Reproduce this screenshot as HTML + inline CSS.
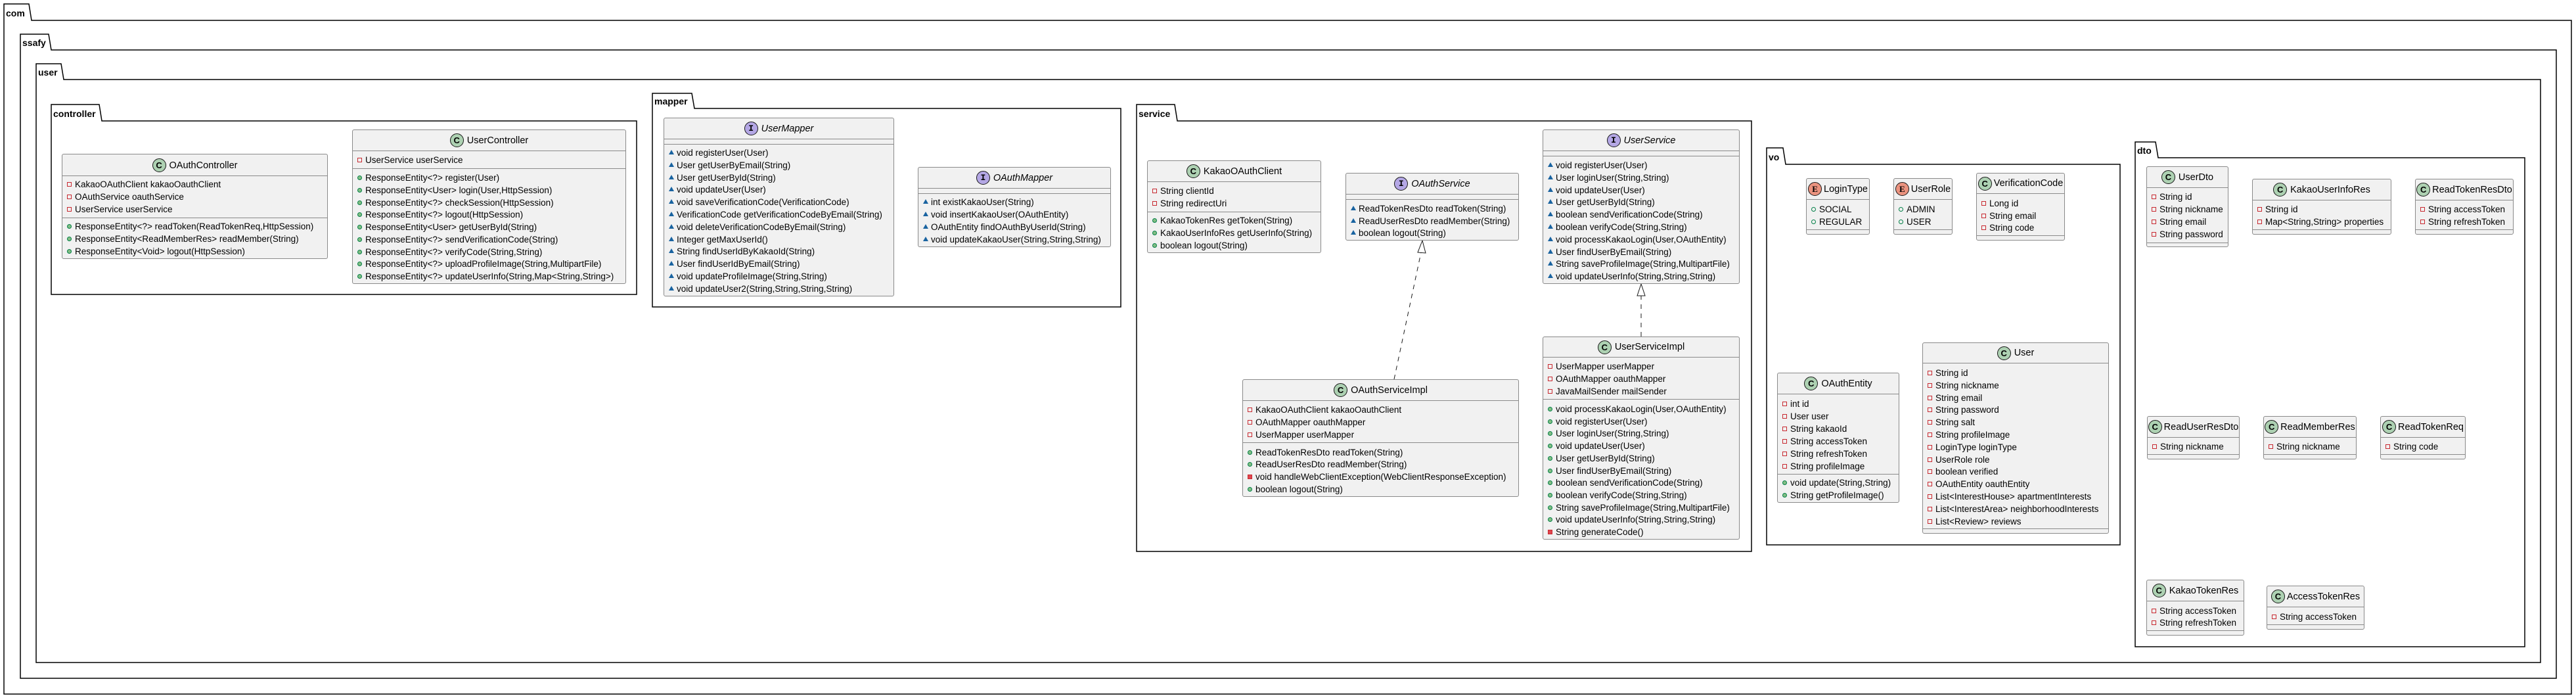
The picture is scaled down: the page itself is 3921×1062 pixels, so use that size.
<!DOCTYPE html>
<html><head><meta charset="utf-8">
<style>
html,body{margin:0;padding:0;background:#fff;}
body{width:3921px;height:1062px;position:relative;overflow:hidden;font-family:"Liberation Sans",Arial,sans-serif;color:#000;}
svg.bg{position:absolute;left:0;top:0;}
.b{position:absolute;background:#F1F1F1;border:1px solid #8a8a8a;border-radius:3px;box-sizing:border-box;}
.h{position:absolute;left:0;right:0;top:0;display:flex;align-items:center;justify-content:center;gap:5px;font-size:14.5px;white-space:nowrap;}
.h.it span{font-style:italic;}
.c{width:21px;height:21px;border-radius:50%;border:1px solid #181818;background:#ADD1B2;font:bold 13px "Liberation Sans",sans-serif;display:flex;align-items:center;justify-content:center;box-sizing:border-box;flex:none;}
.c.i{background:#B4A7E5;font-family:"Liberation Mono",monospace;}
.c.e{background:#EB937F;font-family:"Liberation Serif",serif;}
.s{position:absolute;left:0;right:0;border-top:1px solid #8a8a8a;height:0;}
p{position:absolute;left:19px;margin:0;font-size:13.5px;line-height:19px;white-space:nowrap;}
p i{position:absolute;left:-12px;top:6px;width:7px;height:7px;box-sizing:border-box;}
i.pf{border:1px solid #C82930;}
i.pm{background:#E0474F;border:1px solid #C82930;}
i.gm{background:#84BE84;border:1px solid #038048;border-radius:50%;}
i.gf{border:1px solid #038048;border-radius:50%;}
i.tr{width:0;height:0;border-left:4px solid transparent;border-right:4px solid transparent;border-bottom:7px solid #1963A0;top:5px;}
</style></head><body>
<svg class="bg" width="3921" height="1062" xmlns="http://www.w3.org/2000/svg">
<g fill="none" stroke="#000" stroke-width="1.5">
<path d="M6,1056 L6,6 L44,6 L48,31 L3914,31 L3914,1056 Z"/>
<path d="M31,1032 L31,52 L74,52 L78,76 L3891,76 L3891,1032 Z"/>
<path d="M55,1008 L55,97 L93,97 L97,121 L3867,121 L3867,1008 Z"/>
<path d="M78,448 L78,159 L151,159 L155,184 L969,184 L969,448 Z"/>
<path d="M993,467 L993,142 L1053,142 L1057,165 L1706,165 L1706,467 Z"/>
<path d="M1730,839 L1730,159 L1788,159 L1792,184 L2666,184 L2666,839 Z"/>
<path d="M2689,829 L2689,225 L2714,225 L2718,250 L3227,250 L3227,829 Z"/>
<path d="M3250,984 L3250,216 L3281,216 L3285,240 L3843,240 L3843,984 Z"/>
</g>
<g font-family="Liberation Sans, Arial, sans-serif" font-weight="bold" font-size="14">
<text x="9" y="25">com</text>
<text x="34" y="70">ssafy</text>
<text x="58" y="115">user</text>
<text x="81" y="178">controller</text>
<text x="996" y="159">mapper</text>
<text x="1733" y="178">service</text>
<text x="2692" y="244">vo</text>
<text x="3253" y="234">dto</text>
</g>
<g stroke="#181818" stroke-width="1" fill="none">
<line x1="2122" y1="577" x2="2163" y2="384" stroke-dasharray="7,7"/>
<polygon points="2165,366 2158,384 2170,385" fill="#fff"/>
<line x1="2498" y1="512" x2="2498" y2="450" stroke-dasharray="7,7"/>
<polygon points="2498,432 2492,450 2504,450" fill="#fff"/>
</g>
</svg>

<!-- OAuthController -->
<div class="b" style="left:94px;top:234px;width:405px;height:160px">
<div class="h" style="height:33px"><div class="c">C</div><span>OAuthController</span></div>
<div class="s" style="top:32px"></div>
<p style="top:36px"><i class="pf"></i>KakaoOAuthClient kakaoOauthClient</p>
<p style="top:55px"><i class="pf"></i>OAuthService oauthService</p>
<p style="top:74px"><i class="pf"></i>UserService userService</p>
<div class="s" style="top:96px"></div>
<p style="top:100px"><i class="gm"></i>ResponseEntity&lt;?&gt; readToken(ReadTokenReq,HttpSession)</p>
<p style="top:119px"><i class="gm"></i>ResponseEntity&lt;ReadMemberRes&gt; readMember(String)</p>
<p style="top:138px"><i class="gm"></i>ResponseEntity&lt;Void&gt; logout(HttpSession)</p>
</div>

<!-- UserController -->
<div class="b" style="left:536px;top:197px;width:417px;height:235px">
<div class="h" style="height:31px"><div class="c">C</div><span>UserController</span></div>
<div class="s" style="top:31px"></div>
<p style="top:36px"><i class="pf"></i>UserService userService</p>
<div class="s" style="top:58px"></div>
<p style="top:63px"><i class="gm"></i>ResponseEntity&lt;?&gt; register(User)</p>
<p style="top:81.75px"><i class="gm"></i>ResponseEntity&lt;User&gt; login(User,HttpSession)</p>
<p style="top:100.5px"><i class="gm"></i>ResponseEntity&lt;?&gt; checkSession(HttpSession)</p>
<p style="top:119.25px"><i class="gm"></i>ResponseEntity&lt;?&gt; logout(HttpSession)</p>
<p style="top:138px"><i class="gm"></i>ResponseEntity&lt;User&gt; getUserById(String)</p>
<p style="top:156.75px"><i class="gm"></i>ResponseEntity&lt;?&gt; sendVerificationCode(String)</p>
<p style="top:175.5px"><i class="gm"></i>ResponseEntity&lt;?&gt; verifyCode(String,String)</p>
<p style="top:194.25px"><i class="gm"></i>ResponseEntity&lt;?&gt; uploadProfileImage(String,MultipartFile)</p>
<p style="top:213px"><i class="gm"></i>ResponseEntity&lt;?&gt; updateUserInfo(String,Map&lt;String,String&gt;)</p>
</div>

<!-- UserMapper -->
<div class="b" style="left:1010px;top:179px;width:351px;height:272px">
<div class="h it" style="height:31px"><div class="c i">I</div><span>UserMapper</span></div>
<div class="s" style="top:31px"></div><div class="s" style="top:39px"></div>
<p style="top:43px"><i class="tr"></i>void registerUser(User)</p>
<p style="top:61.8px"><i class="tr"></i>User getUserByEmail(String)</p>
<p style="top:80.6px"><i class="tr"></i>User getUserById(String)</p>
<p style="top:99.4px"><i class="tr"></i>void updateUser(User)</p>
<p style="top:118.2px"><i class="tr"></i>void saveVerificationCode(VerificationCode)</p>
<p style="top:137px"><i class="tr"></i>VerificationCode getVerificationCodeByEmail(String)</p>
<p style="top:155.8px"><i class="tr"></i>void deleteVerificationCodeByEmail(String)</p>
<p style="top:174.6px"><i class="tr"></i>Integer getMaxUserId()</p>
<p style="top:193.4px"><i class="tr"></i>String findUserIdByKakaoId(String)</p>
<p style="top:212.2px"><i class="tr"></i>User findUserIdByEmail(String)</p>
<p style="top:231px"><i class="tr"></i>void updateProfileImage(String,String)</p>
<p style="top:249.8px"><i class="tr"></i>void updateUser2(String,String,String,String)</p>
</div>

<!-- OAuthMapper -->
<div class="b" style="left:1397px;top:254px;width:294px;height:122px">
<div class="h it" style="height:31px"><div class="c i">I</div><span>OAuthMapper</span></div>
<div class="s" style="top:31px"></div><div class="s" style="top:39px"></div>
<p style="top:43px"><i class="tr"></i>int existKakaoUser(String)</p>
<p style="top:62px"><i class="tr"></i>void insertKakaoUser(OAuthEntity)</p>
<p style="top:81px"><i class="tr"></i>OAuthEntity findOAuthByUserId(String)</p>
<p style="top:100px"><i class="tr"></i>void updateKakaoUser(String,String,String)</p>
</div>

<!-- KakaoOAuthClient -->
<div class="b" style="left:1746px;top:244px;width:265px;height:141px">
<div class="h" style="height:31px"><div class="c">C</div><span>KakaoOAuthClient</span></div>
<div class="s" style="top:31px"></div>
<p style="top:36px"><i class="pf"></i>String clientId</p>
<p style="top:55px"><i class="pf"></i>String redirectUri</p>
<div class="s" style="top:77px"></div>
<p style="top:81px"><i class="gm"></i>KakaoTokenRes getToken(String)</p>
<p style="top:100px"><i class="gm"></i>KakaoUserInfoRes getUserInfo(String)</p>
<p style="top:119px"><i class="gm"></i>boolean logout(String)</p>
</div>

<!-- OAuthService -->
<div class="b" style="left:2048px;top:263px;width:264px;height:103px">
<div class="h it" style="height:31px"><div class="c i">I</div><span>OAuthService</span></div>
<div class="s" style="top:31px"></div><div class="s" style="top:39px"></div>
<p style="top:44px"><i class="tr"></i>ReadTokenResDto readToken(String)</p>
<p style="top:63px"><i class="tr"></i>ReadUserResDto readMember(String)</p>
<p style="top:81px"><i class="tr"></i>boolean logout(String)</p>
</div>

<!-- UserService -->
<div class="b" style="left:2348px;top:197px;width:300px;height:235px">
<div class="h it" style="height:31px"><div class="c i">I</div><span>UserService</span></div>
<div class="s" style="top:31px"></div><div class="s" style="top:39px"></div>
<p style="top:44px"><i class="tr"></i>void registerUser(User)</p>
<p style="top:62.8px"><i class="tr"></i>User loginUser(String,String)</p>
<p style="top:81.6px"><i class="tr"></i>void updateUser(User)</p>
<p style="top:100.4px"><i class="tr"></i>User getUserById(String)</p>
<p style="top:119.2px"><i class="tr"></i>boolean sendVerificationCode(String)</p>
<p style="top:138px"><i class="tr"></i>boolean verifyCode(String,String)</p>
<p style="top:156.8px"><i class="tr"></i>void processKakaoLogin(User,OAuthEntity)</p>
<p style="top:175.6px"><i class="tr"></i>User findUserByEmail(String)</p>
<p style="top:194.4px"><i class="tr"></i>String saveProfileImage(String,MultipartFile)</p>
<p style="top:213.2px"><i class="tr"></i>void updateUserInfo(String,String,String)</p>
</div>

<!-- OAuthServiceImpl -->
<div class="b" style="left:1891px;top:577px;width:421px;height:179px">
<div class="h" style="height:31px"><div class="c">C</div><span>OAuthServiceImpl</span></div>
<div class="s" style="top:31px"></div>
<p style="top:36px"><i class="pf"></i>KakaoOAuthClient kakaoOauthClient</p>
<p style="top:55px"><i class="pf"></i>OAuthMapper oauthMapper</p>
<p style="top:74px"><i class="pf"></i>UserMapper userMapper</p>
<div class="s" style="top:95px"></div>
<p style="top:101px"><i class="gm"></i>ReadTokenResDto readToken(String)</p>
<p style="top:119px"><i class="gm"></i>ReadUserResDto readMember(String)</p>
<p style="top:138px"><i class="pm"></i>void handleWebClientException(WebClientResponseException)</p>
<p style="top:157px"><i class="gm"></i>boolean logout(String)</p>
</div>

<!-- UserServiceImpl -->
<div class="b" style="left:2348px;top:512px;width:300px;height:309px">
<div class="h" style="height:30px"><div class="c">C</div><span>UserServiceImpl</span></div>
<div class="s" style="top:30px"></div>
<p style="top:35px"><i class="pf"></i>UserMapper userMapper</p>
<p style="top:54px"><i class="pf"></i>OAuthMapper oauthMapper</p>
<p style="top:73px"><i class="pf"></i>JavaMailSender mailSender</p>
<div class="s" style="top:94px"></div>
<p style="top:100px"><i class="gm"></i>void processKakaoLogin(User,OAuthEntity)</p>
<p style="top:118.7px"><i class="gm"></i>void registerUser(User)</p>
<p style="top:137.4px"><i class="gm"></i>User loginUser(String,String)</p>
<p style="top:156.1px"><i class="gm"></i>void updateUser(User)</p>
<p style="top:174.8px"><i class="gm"></i>User getUserById(String)</p>
<p style="top:193.5px"><i class="gm"></i>User findUserByEmail(String)</p>
<p style="top:212.2px"><i class="gm"></i>boolean sendVerificationCode(String)</p>
<p style="top:230.9px"><i class="gm"></i>boolean verifyCode(String,String)</p>
<p style="top:249.6px"><i class="gm"></i>String saveProfileImage(String,MultipartFile)</p>
<p style="top:268.3px"><i class="gm"></i>void updateUserInfo(String,String,String)</p>
<p style="top:287px"><i class="pm"></i>String generateCode()</p>
</div>

<!-- LoginType -->
<div class="b" style="left:2749px;top:271px;width:97px;height:86px">
<div class="h" style="height:31px;gap:3px"><div class="c e">E</div><span>LoginType</span></div>
<div class="s" style="top:31px"></div>
<p style="top:37px"><i class="gf"></i>SOCIAL</p>
<p style="top:56px"><i class="gf"></i>REGULAR</p>
<div class="s" style="top:77px"></div>
</div>

<!-- UserRole -->
<div class="b" style="left:2882px;top:271px;width:90px;height:86px">
<div class="h" style="height:31px;gap:3px"><div class="c e">E</div><span>UserRole</span></div>
<div class="s" style="top:31px"></div>
<p style="top:37px"><i class="gf"></i>ADMIN</p>
<p style="top:56px"><i class="gf"></i>USER</p>
<div class="s" style="top:77px"></div>
</div>

<!-- VerificationCode -->
<div class="b" style="left:3008px;top:263px;width:135px;height:103px">
<div class="h" style="height:30px;gap:3px"><div class="c">C</div><span>VerificationCode</span></div>
<div class="s" style="top:30px"></div>
<p style="top:36px"><i class="pf"></i>Long id</p>
<p style="top:55px"><i class="pf"></i>String email</p>
<p style="top:73px"><i class="pf"></i>String code</p>
<div class="s" style="top:94px"></div>
</div>

<!-- OAuthEntity -->
<div class="b" style="left:2705px;top:567px;width:186px;height:198px">
<div class="h" style="height:31px"><div class="c">C</div><span>OAuthEntity</span></div>
<div class="s" style="top:31px"></div>
<p style="top:37px"><i class="pf"></i>int id</p>
<p style="top:55.9px"><i class="pf"></i>User user</p>
<p style="top:74.8px"><i class="pf"></i>String kakaoId</p>
<p style="top:93.7px"><i class="pf"></i>String accessToken</p>
<p style="top:112.6px"><i class="pf"></i>String refreshToken</p>
<p style="top:131.5px"><i class="pf"></i>String profileImage</p>
<div class="s" style="top:153px"></div>
<p style="top:157px"><i class="gm"></i>void update(String,String)</p>
<p style="top:176px"><i class="gm"></i>String getProfileImage()</p>
</div>

<!-- User -->
<div class="b" style="left:2926px;top:521px;width:284px;height:291px">
<div class="h" style="height:30px"><div class="c">C</div><span>User</span></div>
<div class="s" style="top:30px"></div>
<p style="top:36px"><i class="pf"></i>String id</p>
<p style="top:54.8px"><i class="pf"></i>String nickname</p>
<p style="top:73.6px"><i class="pf"></i>String email</p>
<p style="top:92.4px"><i class="pf"></i>String password</p>
<p style="top:111.2px"><i class="pf"></i>String salt</p>
<p style="top:130px"><i class="pf"></i>String profileImage</p>
<p style="top:148.8px"><i class="pf"></i>LoginType loginType</p>
<p style="top:167.6px"><i class="pf"></i>UserRole role</p>
<p style="top:186.4px"><i class="pf"></i>boolean verified</p>
<p style="top:205.2px"><i class="pf"></i>OAuthEntity oauthEntity</p>
<p style="top:224px"><i class="pf"></i>List&lt;InterestHouse&gt; apartmentInterests</p>
<p style="top:242.8px"><i class="pf"></i>List&lt;InterestArea&gt; neighborhoodInterests</p>
<p style="top:261.6px"><i class="pf"></i>List&lt;Review&gt; reviews</p>
<div class="s" style="top:282px"></div>
</div>

<!-- UserDto -->
<div class="b" style="left:3267px;top:253px;width:125px;height:123px">
<div class="h" style="height:31px"><div class="c">C</div><span>UserDto</span></div>
<div class="s" style="top:31px"></div>
<p style="top:36px"><i class="pf"></i>String id</p>
<p style="top:55px"><i class="pf"></i>String nickname</p>
<p style="top:74px"><i class="pf"></i>String email</p>
<p style="top:93px"><i class="pf"></i>String password</p>
<div class="s" style="top:115px"></div>
</div>

<!-- KakaoUserInfoRes -->
<div class="b" style="left:3428px;top:272px;width:212px;height:85px">
<div class="h" style="height:31px"><div class="c">C</div><span>KakaoUserInfoRes</span></div>
<div class="s" style="top:31px"></div>
<p style="top:36px"><i class="pf"></i>String id</p>
<p style="top:55px"><i class="pf"></i>Map&lt;String,String&gt; properties</p>
<div class="s" style="top:76px"></div>
</div>

<!-- ReadTokenResDto -->
<div class="b" style="left:3676px;top:272px;width:150px;height:85px">
<div class="h" style="height:31px;gap:3px"><div class="c">C</div><span>ReadTokenResDto</span></div>
<div class="s" style="top:31px"></div>
<p style="top:36px"><i class="pf"></i>String accessToken</p>
<p style="top:55px"><i class="pf"></i>String refreshToken</p>
<div class="s" style="top:76px"></div>
</div>

<!-- ReadUserResDto -->
<div class="b" style="left:3268px;top:633px;width:141px;height:66px">
<div class="h" style="height:31px;gap:3px"><div class="c">C</div><span>ReadUserResDto</span></div>
<div class="s" style="top:31px"></div>
<p style="top:36px"><i class="pf"></i>String nickname</p>
<div class="s" style="top:57px"></div>
</div>

<!-- ReadMemberRes -->
<div class="b" style="left:3445px;top:633px;width:142px;height:66px">
<div class="h" style="height:31px;gap:3px"><div class="c">C</div><span>ReadMemberRes</span></div>
<div class="s" style="top:31px"></div>
<p style="top:36px"><i class="pf"></i>String nickname</p>
<div class="s" style="top:57px"></div>
</div>

<!-- ReadTokenReq -->
<div class="b" style="left:3623px;top:633px;width:130px;height:66px">
<div class="h" style="height:31px;gap:3px"><div class="c">C</div><span>ReadTokenReq</span></div>
<div class="s" style="top:31px"></div>
<p style="top:36px"><i class="pf"></i>String code</p>
<div class="s" style="top:57px"></div>
</div>

<!-- KakaoTokenRes -->
<div class="b" style="left:3267px;top:882px;width:149px;height:85px">
<div class="h" style="height:31px"><div class="c">C</div><span>KakaoTokenRes</span></div>
<div class="s" style="top:31px"></div>
<p style="top:37px"><i class="pf"></i>String accessToken</p>
<p style="top:55px"><i class="pf"></i>String refreshToken</p>
<div class="s" style="top:76px"></div>
</div>

<!-- AccessTokenRes -->
<div class="b" style="left:3450px;top:891px;width:149px;height:67px">
<div class="h" style="height:31px;gap:3px"><div class="c">C</div><span>AccessTokenRes</span></div>
<div class="s" style="top:31px"></div>
<p style="top:37px"><i class="pf"></i>String accessToken</p>
<div class="s" style="top:58px"></div>
</div>

</body></html>
